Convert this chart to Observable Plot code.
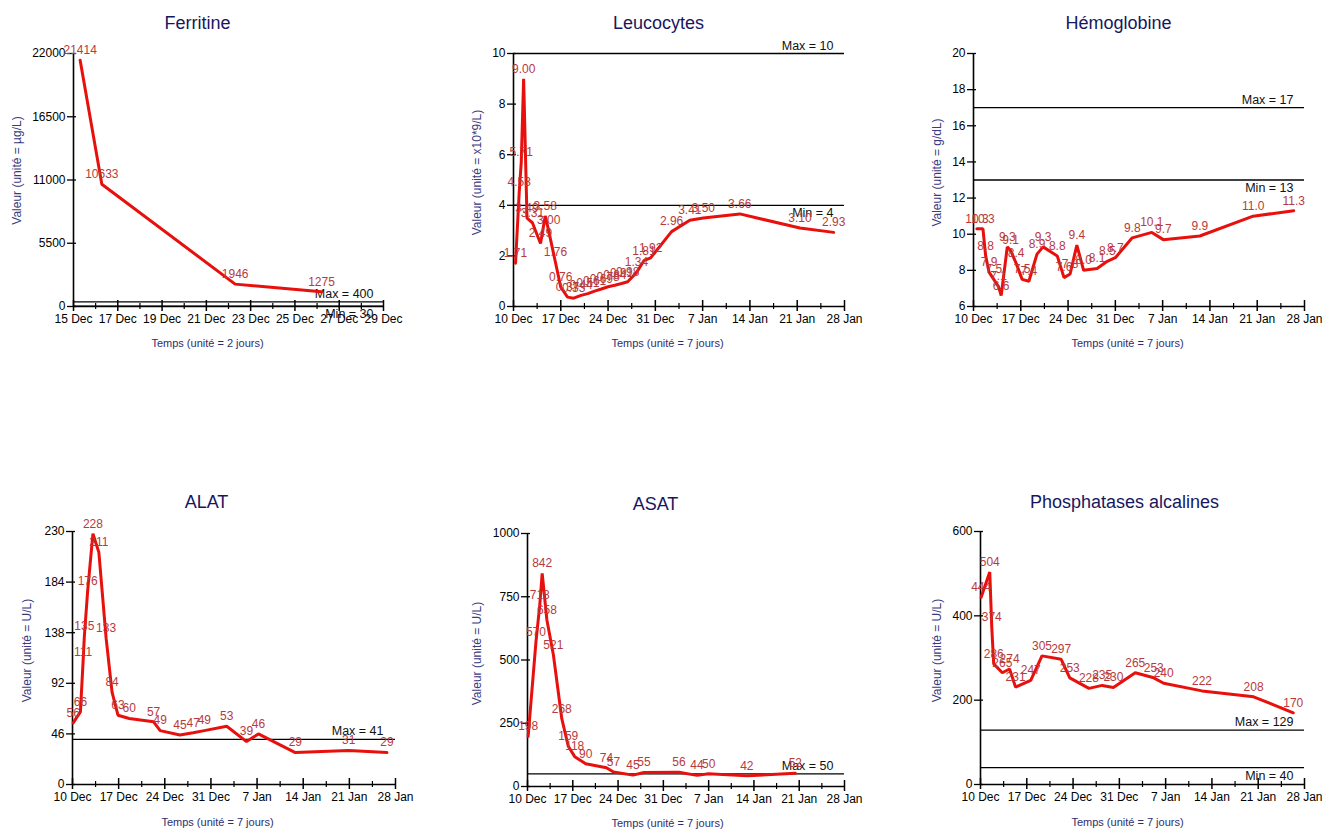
<!DOCTYPE html>
<html>
<head>
<meta charset="utf-8">
<script src="https://cdn.jsdelivr.net/npm/d3@7"></script>
<script src="https://cdn.jsdelivr.net/npm/@observablehq/plot@0.6"></script>
<style>
  html, body { margin: 0; padding: 0; background: #fff; }
  #wrap { position: relative; width: 1323px; height: 831px; background: #fff; overflow: hidden; }
  #wrap svg { position: absolute; }
</style>
</head>
<body>
<div id="wrap"></div>
<script>
// ---------------- DATA ----------------
// Ferritine (days after 15 Dec)
const ferritineDays   = [0.30, 1.28, 7.3, 11.2];
const ferritineValues = [21414, 10633, 1946, 1275];
const ferritineYTicks = [0, 5500, 11000, 16500, 22000];
const ferritineMax = 400, ferritineMin = 30;

// Leucocytes (days after 10 Dec)
const leucoDays   = [0.3, 0.85, 1.15, 1.5, 2.0, 2.8, 4.0, 4.7, 5.2, 6.2, 7.0, 8.0, 8.9, 10.0, 11.0, 12.0, 13.0, 14.0, 15.0, 16.0, 16.9, 18.2, 19.3, 20.3, 23.4, 26.1, 28.1, 33.5, 42.4, 47.4];
const leucoValues = [1.71, 4.53, 5.71, 9.00, 3.49, 3.31, 2.49, 3.58, 3.00, 1.76, 0.76, 0.37, 0.33, 0.44, 0.51, 0.61, 0.69, 0.78, 0.84, 0.91, 0.98, 1.34, 1.81, 1.92, 2.96, 3.41, 3.50, 3.66, 3.10, 2.93];
const leucoYTicks = [0, 2, 4, 6, 8, 10];
const leucoMax = 10, leucoMin = 4;

// Hémoglobine (days after 10 Dec)
const hemoDays   = [0.5, 1.4, 1.8, 2.3, 3.0, 3.7, 4.1, 5.0, 5.5, 6.3, 7.2, 8.2, 9.4, 10.3, 12.4, 13.4, 14.3, 15.3, 16.3, 18.3, 19.8, 21.0, 23.5, 26.4, 28.1, 33.5, 41.4, 47.4];
const hemoValues = [10.3, 10.3, 8.8, 7.9, 7.5, 7.1, 6.6, 9.3, 9.1, 8.4, 7.5, 7.4, 8.9, 9.3, 8.8, 7.6, 7.8, 9.4, 8.0, 8.1, 8.5, 8.7, 9.8, 10.1, 9.7, 9.9, 11.0, 11.3];
const hemoYTicks = [6, 8, 10, 12, 14, 16, 18, 20];
const hemoMax = 17, hemoMin = 13;

// ALAT (days after 10 Dec)
const alatDays   = [0.1, 1.2, 1.6, 1.8, 2.3, 3.1, 4.0, 5.1, 6.0, 6.9, 8.6, 12.3, 13.3, 16.3, 18.3, 20.0, 23.4, 26.4, 28.2, 33.8, 41.9, 47.7];
const alatValues = [56, 66, 111, 135, 176, 228, 211, 133, 84, 63, 60, 57, 49, 45, 47, 49, 53, 39, 46, 29, 31, 29];
const alatYTicks = [0, 46, 92, 138, 184, 230];
const alatMax = 41;

// ASAT (days after 10 Dec)
const asatDays   = [0.1, 1.3, 1.9, 2.27, 3.0, 4.0, 5.3, 6.3, 7.3, 9.0, 12.2, 13.3, 16.3, 18.0, 23.4, 26.2, 28.0, 33.9, 41.4];
const asatValues = [198, 570, 718, 842, 658, 521, 268, 159, 118, 90, 74, 57, 45, 55, 56, 44, 50, 42, 52];
const asatYTicks = [0, 250, 500, 750, 1000];
const asatMax = 50;

// Phosphatases alcalines (days after 10 Dec)
const palDays   = [0.1, 1.4, 1.7, 2.0, 3.3, 4.4, 5.3, 7.6, 9.3, 12.2, 13.5, 16.4, 18.4, 20.1, 23.4, 26.2, 27.7, 33.5, 41.3, 47.3];
const palValues = [444, 504, 374, 286, 265, 274, 231, 247, 305, 297, 253, 228, 235, 230, 265, 253, 240, 222, 208, 170];
const palYTicks = [0, 200, 400, 600];
const palMax = 129, palMin = 40;

// ---------------- DRAWING ----------------
const DAY = 864e5;
const FONT = "'Liberation Sans', Arial, Helvetica, sans-serif";
const wrap = document.getElementById("wrap");

function panel(cfg) {
  const {left, top, width, height, L, R, T, B, start, end} = cfg;
  const data = cfg.days.map((d, i) => ({date: new Date(+start + d * DAY), value: cfg.values[i]}));
  const spanDays = (end - start) / DAY;
  const major = d3.range(0, spanDays + 0.001, cfg.majorStep).map(d => new Date(+start + d * DAY));
  const minor = d3.range(0, spanDays + 0.001, cfg.minorStep)
    .filter(d => Math.abs(d / cfg.majorStep - Math.round(d / cfg.majorStep)) > 1e-6)
    .map(d => new Date(+start + d * DAY));
  const [y0, y1] = cfg.yDomain;
  const pxY = (B - T) / (y1 - y0);
  const pxX = (R - L) / spanDays;
  const yu = px => px / pxY;
  const xd = px => px / pxX * DAY;
  const maxRef = cfg.max != null ? [{value: cfg.max, label: "Max = " + cfg.max}] : [];
  const minRef = cfg.min != null ? [{value: cfg.min, label: "Min = " + cfg.min}] : [];
  const refs = maxRef.concat(minRef);
  const cx = (L + R) / 2, cy = (T + B) / 2;

  const svg = Plot.plot({
    width, height,
    marginLeft: L - left, marginRight: left + width - R,
    marginTop: T - top, marginBottom: top + height - B,
    style: {fontFamily: FONT, background: "transparent", overflow: "visible"},
    x: {type: "utc", domain: [start, end]},
    y: {domain: [y0, y1]},
    marks: [
      // reference lines
      Plot.ruleY(refs, {y: "value", stroke: "#000", strokeWidth: 1.3}),
      Plot.text(maxRef, {x: () => end, y: "value", text: "label", textAnchor: "end", dx: cfg.refDx, dy: -8, fontSize: 12.5, fill: "#111"}),
      Plot.text(minRef, {x: () => end, y: "value", text: "label", textAnchor: "end", dx: cfg.refDx, dy: 8, fontSize: 12.5, fill: "#111"}),
      // axis lines
      Plot.ruleX([start], {stroke: "#000", strokeWidth: 1.6}),
      Plot.ruleY([y0], {stroke: "#000", strokeWidth: 1.6}),
      // ticks crossing the axes
      Plot.ruleX(major, {x: d => d, y1: y0 - yu(5), y2: y0 + yu(6), stroke: "#000", strokeWidth: 1.5}),
      Plot.ruleX(minor, {x: d => d, y1: y0 - yu(3), y2: y0 + yu(3), stroke: "#000", strokeWidth: 1.2}),
      Plot.ruleY(cfg.yTicks, {y: d => d, x1: new Date(+start - xd(6)), x2: new Date(+start + xd(3)), stroke: "#000", strokeWidth: 1.3}),
      // tick labels
      Plot.axisX(major, {tickSize: 0, tickPadding: 8, tickFormat: d3.utcFormat("%-d %b"), fontSize: 12, color: "#000", label: null}),
      Plot.axisY(cfg.yTicks, {tickSize: 0, tickPadding: 8, tickFormat: d => String(d), fontSize: 12, color: "#000", label: null}),
      // series
      Plot.line(data, {x: "date", y: "value", stroke: "#e8100c", strokeWidth: 3, strokeLinejoin: "miter"}),
      Plot.text(data, {x: "date", y: "value", text: d => cfg.fmt(d.value), dy: -10, fontSize: 12, fill: "#b83a3c"}),
      // titles
      Plot.text([cfg.title], {frameAnchor: "top", lineAnchor: "middle", textAnchor: "middle", dx: cfg.titleX - cx, dy: cfg.titleY - T, fontSize: 18, fill: "#17175f"}),
      Plot.text([cfg.xLabel], {frameAnchor: "bottom", lineAnchor: "middle", textAnchor: "middle", dx: cfg.xLabelX - cx, dy: cfg.xLabelY - B, fontSize: 11, fill: "#2e2e6e"}),
      Plot.text([cfg.yLabel], {frameAnchor: "left", lineAnchor: "middle", textAnchor: "middle", rotate: -90, dx: cfg.yLabelX - L, dy: cfg.yLabelY - cy, fontSize: 12, fill: "#3a3a7e"})
    ]
  });
  svg.style.left = left + "px";
  svg.style.top = top + "px";
  wrap.appendChild(svg);
}

const dec10 = new Date(Date.UTC(2019, 11, 10));
const jan28 = new Date(Date.UTC(2020, 0, 28));
const f0 = d3.format("d"), f1 = d3.format(".1f"), f2 = d3.format(".2f");
const week = "Temps (unité = 7 jours)";

panel({title: "Ferritine", days: ferritineDays, values: ferritineValues, yTicks: ferritineYTicks, yDomain: [0, 22000],
  max: ferritineMax, min: ferritineMin, fmt: f0,
  start: new Date(Date.UTC(2019, 11, 15)), end: new Date(Date.UTC(2019, 11, 29)), majorStep: 2, minorStep: 1,
  left: 0, top: 0, width: 440, height: 360, L: 73, R: 383, T: 53, B: 306,
  titleX: 197, titleY: 23, xLabel: "Temps (unité = 2 jours)", xLabelX: 207, xLabelY: 343,
  yLabel: "Valeur (unité = µg/L)", yLabelX: 17, yLabelY: 170, refDx: -10});

panel({title: "Leucocytes", days: leucoDays, values: leucoValues, yTicks: leucoYTicks, yDomain: [0, 10],
  max: leucoMax, min: leucoMin, fmt: f2,
  start: dec10, end: jan28, majorStep: 7, minorStep: 3.5,
  left: 440, top: 0, width: 440, height: 360, L: 513, R: 844, T: 53, B: 306,
  titleX: 658, titleY: 23, xLabel: week, xLabelX: 667, xLabelY: 343,
  yLabel: "Valeur (unité = x10*9/L)", yLabelX: 477, yLabelY: 172, refDx: -11});

panel({title: "Hémoglobine", days: hemoDays, values: hemoValues, yTicks: hemoYTicks, yDomain: [6, 20],
  max: hemoMax, min: hemoMin, fmt: f1,
  start: dec10, end: jan28, majorStep: 7, minorStep: 3.5,
  left: 880, top: 0, width: 443, height: 360, L: 973, R: 1304, T: 53, B: 306,
  titleX: 1118, titleY: 23, xLabel: week, xLabelX: 1127, xLabelY: 343,
  yLabel: "Valeur (unité = g/dL)", yLabelX: 937, yLabelY: 172, refDx: -11});

panel({title: "ALAT", days: alatDays, values: alatValues, yTicks: alatYTicks, yDomain: [0, 230],
  max: alatMax, min: null, fmt: f0,
  start: dec10, end: jan28, majorStep: 7, minorStep: 3.5,
  left: 0, top: 470, width: 440, height: 361, L: 72, R: 395, T: 531, B: 784,
  titleX: 206, titleY: 502, xLabel: week, xLabelX: 217, xLabelY: 822,
  yLabel: "Valeur (unité = U/L)", yLabelX: 27, yLabelY: 650, refDx: -12});

panel({title: "ASAT", days: asatDays, values: asatValues, yTicks: asatYTicks, yDomain: [0, 1000],
  max: asatMax, min: null, fmt: f0,
  start: dec10, end: jan28, majorStep: 7, minorStep: 3.5,
  left: 440, top: 470, width: 440, height: 361, L: 527, R: 844, T: 533, B: 786,
  titleX: 655, titleY: 504, xLabel: week, xLabelX: 667, xLabelY: 823,
  yLabel: "Valeur (unité = U/L)", yLabelX: 477, yLabelY: 653, refDx: -11});

panel({title: "Phosphatases alcalines", days: palDays, values: palValues, yTicks: palYTicks, yDomain: [0, 600],
  max: palMax, min: palMin, fmt: f0,
  start: dec10, end: jan28, majorStep: 7, minorStep: 3.5,
  left: 880, top: 470, width: 443, height: 361, L: 980, R: 1304, T: 531, B: 784,
  titleX: 1124, titleY: 502, xLabel: week, xLabelX: 1127, xLabelY: 822,
  yLabel: "Valeur (unité = U/L)", yLabelX: 937, yLabelY: 650, refDx: -11});
</script>
</body>
</html>
